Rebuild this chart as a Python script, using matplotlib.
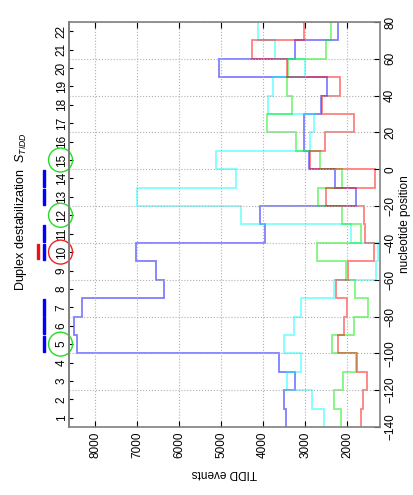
import matplotlib
matplotlib.use('Agg')
import matplotlib.pyplot as plt
import matplotlib.transforms as mtransforms
import numpy as np
from matplotlib.patches import Ellipse, Rectangle

plt.rcParams['font.family'] = ['Liberation Sans Narrow', 'Liberation Sans', 'DejaVu Sans']
plt.rcParams['mathtext.fontset'] = 'custom'
plt.rcParams['mathtext.it'] = 'Liberation Sans:italic'
plt.rcParams['mathtext.rm'] = 'Liberation Sans'

# 10-nt bins along the promoter, segments 1..22
edges = np.arange(-140, 81, 10)
segments = list(range(1, 23))

# TIDD events per segment
blue = [3460, 3493, 3238, 3627, 8437, 8500, 8302, 6364, 6555, 7031, 3952,
        4071, 1793, 2294, 2900, 3016, 3020, 2620, 2480, 5043, 3250, 2210]
cyan = [2540, 2841, 3421, 3103, 3493, 3266, 3103, 2306, 1300, 1270, 1905,
        4524, 7007, 4650, 5114, 2885, 2777, 3882, 3771, 3010, 3723, 4128]
green = [2143, 2302, 2095, 1780, 2353, 1837, 1492, 1800, 2036, 2707, 1670,
         2112, 2703, 2127, 2643, 3210, 3906, 3317, 3421, 3395, 2511, 2384]
red = [1667, 1620, 1532, 1770, 2207, 2079, 2008, 2270, 1988, 1365, 1580,
       1603, 2500, 1333, 2890, 2519, 1844, 2600, 2162, 3433, 4263, 3035]

# marked segments
blue_marks = [5, 6, 7, 10, 11, 13, 14]
red_marks = [10]
green_circles = [5, 12, 15]
red_circles = [10]

fig = plt.figure(figsize=(4.14, 4.95), dpi=100)
ax = fig.add_axes([0.1667, 0.1374, 0.7512, 0.8182])

for vals, col in [(blue, '#0000ff'), (cyan, '#00ffff'),
                  (green, '#00ee00'), (red, '#ff0000')]:
    ax.stairs(vals, edges, orientation='horizontal', baseline=None,
              color=col, alpha=0.5, lw=1.3)

ax.set_xlim(8620, 1215)
ax.set_ylim(-140, 80)
ax.set_xticks(range(2000, 9000, 1000))
ax.set_yticks(range(-140, 81, 20))
ax.yaxis.tick_right()
ax.tick_params(axis='x', direction='in', top=True, labelrotation=90,
               pad=3, length=4, labelsize=8.5)
ax.tick_params(axis='y', direction='in', right=True, labelrotation=90,
               pad=3, length=4, labelsize=8.5)
for t in ax.get_yticklabels():
    t.set_va('center')
ax.grid(True, linestyle=':', color='#b0b0b0', lw=0.8)
for s in ax.spines.values():
    s.set_color('#808080')
    s.set_linewidth(1.2)

ax.set_xlabel('TIDD events', rotation=180, fontsize=8.5, va='center')
ax.xaxis.set_label_coords(0.5, -0.1136)
fig.text(405 / 414, 1 - 224 / 495, 'nucleotide position', rotation=90,
         ha='center', va='center', fontsize=8.5)

# segment numbers on the left
sec = ax.secondary_yaxis('left')
sec.set_yticks(edges[:-1] + 5, labels=[str(s) for s in segments])
sec.tick_params(direction='in', labelrotation=90, pad=1, length=3,
                labelsize=8.5)
for t in sec.get_yticklabels():
    t.set_va('center')
sec.spines['left'].set_color('#808080')
sec.spines['left'].set_linewidth(1.2)

trans = mtransforms.blended_transform_factory(ax.transAxes, ax.transData)
for k in blue_marks:
    ax.add_patch(Rectangle((-0.0846, edges[k - 1] + 0.5), 0.0087, 9.0,
                           color='#0000ff', transform=trans, clip_on=False))
for k in red_marks:
    ax.add_patch(Rectangle((-0.1039, edges[k - 1] + 1.0), 0.0087, 8.5,
                           color='#ee1111', transform=trans, clip_on=False))
for k in green_circles:
    ax.add_patch(Ellipse((-0.0273, edges[k - 1] + 5), 0.077, 13.0,
                         fill=False, ec='#22dd22', lw=1.0,
                         transform=trans, clip_on=False))
for k in red_circles:
    ax.add_patch(Ellipse((-0.0273, edges[k - 1] + 5), 0.077, 13.0,
                         fill=False, ec='#ee2222', lw=1.0,
                         transform=trans, clip_on=False))

fig.text(21 / 414, 1 - 211 / 495, 'Duplex destabilization  $S_{TIDD}$',
         rotation=90, ha='center', va='center', fontsize=9)

fig.savefig('out.png', dpi=100)
